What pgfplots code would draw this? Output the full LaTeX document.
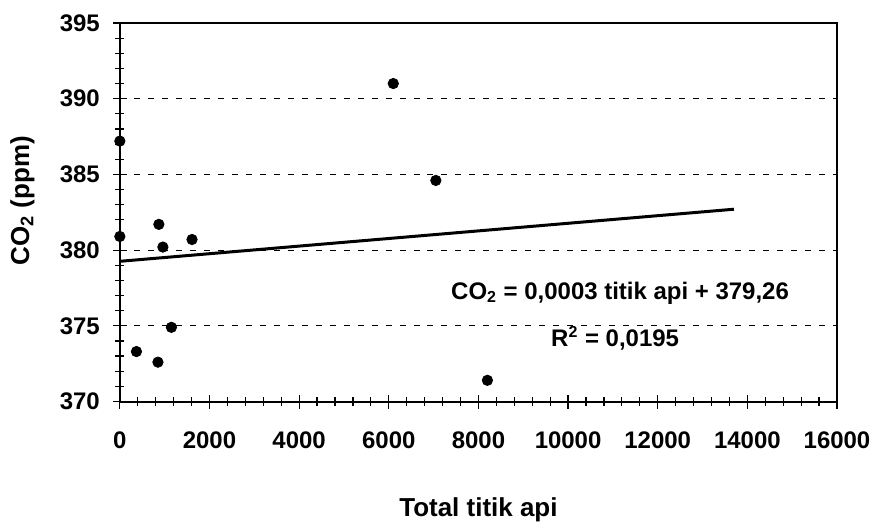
\documentclass[border=0pt]{standalone}
\usepackage{pgfplots}
\pgfplotsset{compat=1.18}
\usepackage{fontspec}
\setmainfont{Liberation Sans}
\begin{document}
\begin{tikzpicture}
\begin{axis}[name=ax,
  scale only axis, width=359pt, height=189.5pt,
  xmin=0, xmax=16000, ymin=370, ymax=395,
  xtick={0,2000,...,16000}, ytick={370,375,...,395},
  minor x tick num=4, minor y tick num=4,
  tick align=center, xtick pos=bottom, ytick pos=left,
  major tick length=7pt, minor tick length=4.5pt,
  every tick/.style={black, line width=0.6pt},
  axis line style={line width=1pt},
  ymajorgrids,
  major grid style={dash pattern=on 3pt off 4pt, line width=0.6pt, black},
  scaled ticks=false,
  /pgf/number format/1000 sep={},
  /pgf/number format/assume math mode=true,
  tick label style={font=\bfseries\fontsize{12}{14}\selectfont},
  xticklabel style={yshift=-8pt},
  yticklabel style={xshift=-3pt},
  label style={font=\bfseries\fontsize{13}{15}\selectfont},
  xlabel={Total titik api},
  ylabel={CO\textsubscript{2} (ppm)},
  xlabel style={at={(axis description cs:0.5,-0.285)}, anchor=center},
  ylabel style={at={(axis description cs:-0.136,0.53)}, anchor=center, rotate=0},
]
\addplot[black, line width=1.5pt] coordinates {(0,379.26) (13700,382.7)};
\addplot[only marks, mark=*, mark size=2.6pt, black] coordinates {
  (0,387.2) (0,380.9) (870,381.7) (960,380.2) (1610,380.7)
  (1150,374.9) (370,373.3) (850,372.6)
  (6100,391.0) (7050,384.6) (8200,371.4)
};
\node[font=\bfseries\fontsize{12}{14}\selectfont] at (axis cs:11160,377.16) {CO\textsubscript{2} = 0,0003 titik api + 379,26};
\node[font=\bfseries\fontsize{12}{14}\selectfont] at (axis cs:11050,374.2) {R\textsuperscript{2} = 0,0195};
\end{axis}
\path ([xshift=-60pt,yshift=-64pt]ax.south west) rectangle ([xshift=19.5pt,yshift=11.5pt]ax.north east);
\end{tikzpicture}
\end{document}
